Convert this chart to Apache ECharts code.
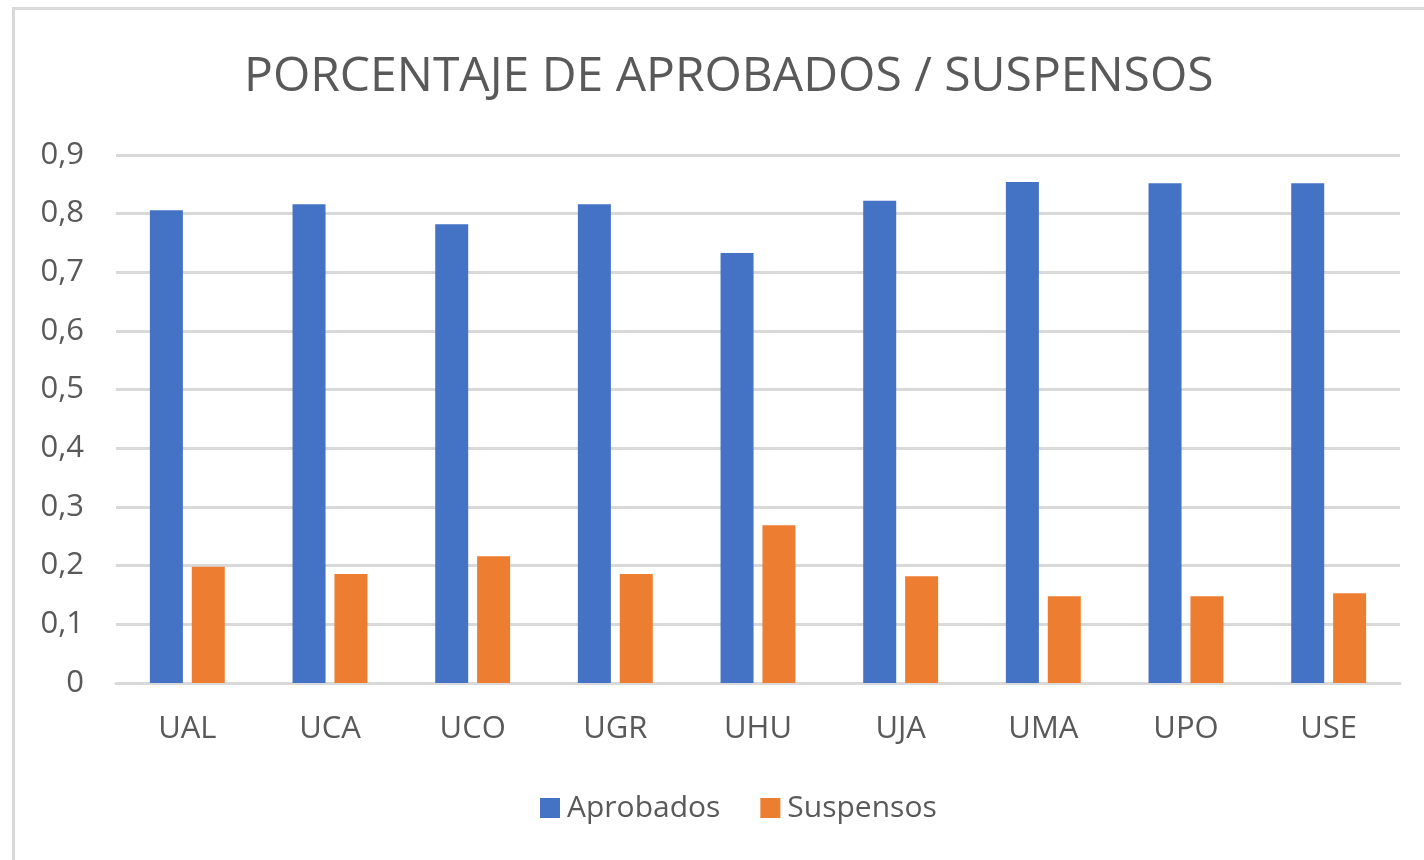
<!DOCTYPE html>
<html>
<head>
<meta charset="utf-8">
<script src="https://cdn.jsdelivr.net/npm/echarts@6/dist/echarts.min.js"></script>
<style>
  html, body { margin: 0; padding: 0; background: #fff; overflow: hidden; }
  #frame {
    position: absolute; left: 12px; top: 7px; width: 1440px; height: 900px;
    border: 3px solid #d9d9d9; box-sizing: border-box;
  }
  #chart { position: absolute; left: 0; top: 0; width: 1424px; height: 860px; }
</style>
</head>
<body>
<div id="frame"></div>
<div id="chart"></div>
<script>
// Universidades
const categories = ["UAL", "UCA", "UCO", "UGR", "UHU", "UJA", "UMA", "UPO", "USE"];
const aprobados = [0.806, 0.816, 0.782, 0.816, 0.733, 0.822, 0.854, 0.852, 0.852];
const suspensos = [0.198, 0.186, 0.216, 0.186, 0.269, 0.182, 0.148, 0.148, 0.153];

const fontFamily = "'Open Sans', 'Noto Sans', sans-serif";
const textColor = "#595959";

let chart = echarts.init(document.getElementById("chart"));
let option = {
  animation: false,
  title: {
    text: "PORCENTAJE DE APROBADOS / SUSPENSOS",
    left: 239,
    top: 48,
    textStyle: {
      fontSize: 48,
      fontWeight: 400,
      color: textColor,
      fontFamily: fontFamily,
    },
  },
  legend: {
    bottom: 32,
    left: 535,
    itemWidth: 20,
    itemHeight: 20,
    itemGap: 40,
    icon: "rect",
    textStyle: { fontSize: 30, color: textColor, fontFamily: fontFamily, padding: [0, 0, 0, 2] },
    data: ["Aprobados", "Suspensos"],
  },
  grid: {
    left: 116,
    right: 24,
    top: 155,
    bottom: 177,
  },
  xAxis: {
    type: "category",
    data: categories,
    axisLine: { show: true, lineStyle: { color: "#d9d9d9", width: 3 } },
    axisTick: { show: false },
    axisLabel: {
      fontSize: 31,
      color: textColor,
      margin: 31,
      fontFamily: fontFamily,
    },
  },
  yAxis: {
    type: "value",
    min: 0,
    max: 0.9,
    interval: 0.1,
    axisLine: { show: false },
    axisTick: { show: false },
    splitLine: { lineStyle: { color: "#d9d9d9", width: 3 } },
    axisLabel: {
      fontSize: 31,
      color: textColor,
      margin: 32,
      fontFamily: fontFamily,
      formatter: (val) => {
        return val === 0 ? "0" : val.toFixed(1).replace(".", ",");
      },
    },
  },
  series: [
    {
      name: "Aprobados",
      type: "bar",
      data: aprobados,
      barWidth: 33,
      barGap: "27%",
      itemStyle: { color: "#4472c4" },
    },
    {
      name: "Suspensos",
      type: "bar",
      data: suspensos,
      barWidth: 33,
      itemStyle: { color: "#ed7d31" },
    },
  ],
};
option && chart.setOption(option);
</script>
</body>
</html>
